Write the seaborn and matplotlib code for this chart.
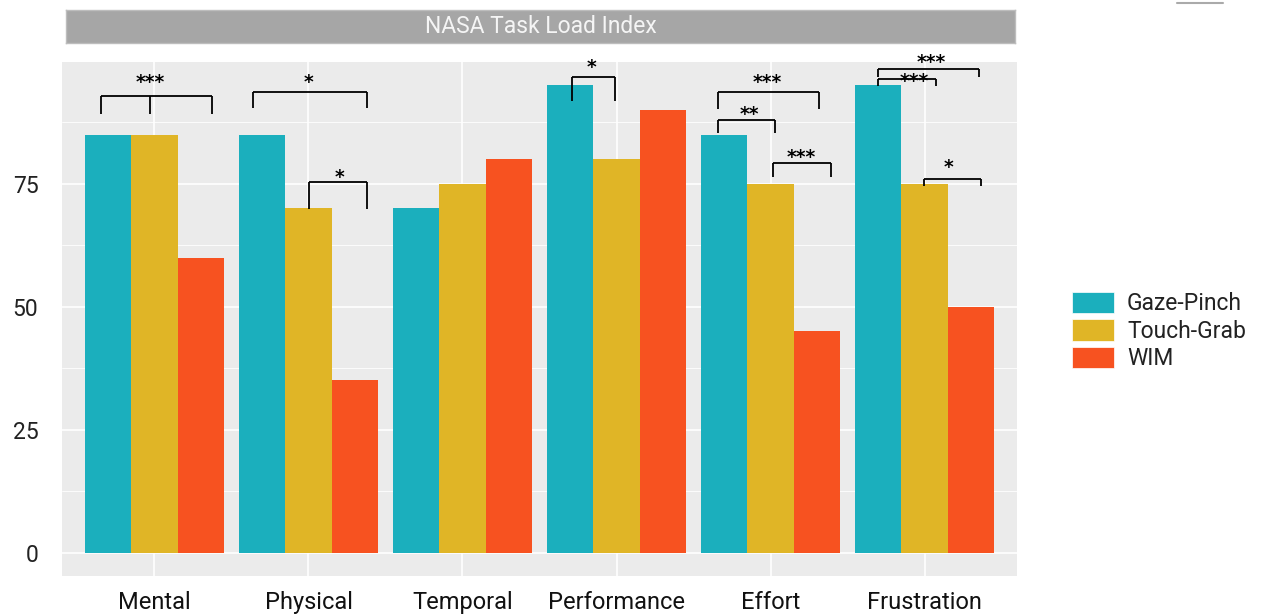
import pandas as pd
import matplotlib
matplotlib.use("Agg")
import matplotlib.pyplot as plt
from matplotlib.patches import Patch
from matplotlib.lines import Line2D
from matplotlib.transforms import offset_copy
import seaborn as sns

# NASA-TLX subscale scores per interaction technique
dimensions = ["Mental", "Physical", "Temporal", "Performance", "Effort", "Frustration"]
techniques = ["Gaze-Pinch", "Touch-Grab", "WIM"]
gaze_pinch = [85, 85, 70, 95, 85, 95]
touch_grab = [85, 70, 75, 80, 75, 75]
wim = [60, 35, 80, 90, 45, 50]
colors = ["#1BAFBD", "#E0B526", "#F75220"]
y_ticks = [0, 25, 50, 75]
title = "NASA Task Load Index"

# significance brackets: legs [(x, leg bottom)], bar height, stars, star x, star y
brackets = [
    ([(-0.35, 89.1), (-0.026, 89.1), (0.377, 89.1)], 92.9, "***", -0.03, 96.8),
    ([(0.643, 90.3), (1.383, 90.3)], 93.7, "*", 1.0, 96.8),
    ([(1.006, 69.9), (1.383, 69.9)], 75.4, "*", 1.20, 77.4),
    ([(2.708, 91.9), (2.987, 91.9)], 96.6, "*", 2.838, 99.7),
    ([(3.662, 90.1), (4.312, 90.1)], 93.7, "***", 3.981, 96.8),
    ([(3.662, 85.4), (4.032, 85.4)], 88.0, "**", 3.864, 90.3),
    ([(4.013, 76.4), (4.390, 76.4)], 79.3, "***", 4.201, 81.5),
    ([(4.695, 96.6), (5.351, 96.6)], 98.4, "***", 5.045, 100.7),
    ([(4.695, 94.8), (5.071, 94.8)], 96.2, "***", 4.935, 97.0),
    ([(4.994, 74.6), (5.364, 74.6)], 76.0, "*", 5.156, 79.4),
]

df = pd.DataFrame({
    "dimension": dimensions * 3,
    "technique": [t for t in techniques for _ in dimensions],
    "score": gaze_pinch + touch_grab + wim,
})

sns.set_theme(style="darkgrid")
plt.rcParams["font.family"] = ["Roboto", "DejaVu Sans"]

W, H = 1261, 616
fig = plt.figure(figsize=(W / 100, H / 100), dpi=100)
ax = fig.add_axes([62 / W, 1 - 576 / H, (1017 - 62) / W, (576 - 62) / H])
ax.set_facecolor("#EBEBEB")

sns.barplot(data=df, x="dimension", y="score", hue="technique",
            hue_order=techniques, order=dimensions, palette=colors,
            width=0.9, saturation=1, linewidth=0, legend=False, ax=ax, zorder=3)

ax.set_xlim(-0.6, 5.6)
ax.set_ylim(-4.75, 99.75)
ax.set_yticks(y_ticks)
ax.set_yticks([12.5, 37.5, 62.5, 87.5], minor=True)
ax.grid(which="major", color="white", linewidth=1.2, zorder=0)
ax.grid(which="minor", axis="y", color="white", linewidth=0.6, zorder=0)
ax.set_axisbelow(True)
for s in ax.spines.values():
    s.set_visible(False)
ax.set_xlabel("")
ax.set_ylabel("")
ax.tick_params(axis="y", which="major", length=3, width=1, color="#333333",
               pad=14, labelsize=16.5, labelcolor="#222222")
ax.tick_params(axis="y", which="minor", length=0)
ax.tick_params(axis="x", length=3, width=1, color="#333333", pad=8,
               labelsize=17, labelcolor="#111111")

# significance brackets with star labels
star_tf = offset_copy(ax.transData, fig=fig, y=-8, units="points")
for legs, top, stars, sx, sy in brackets:
    xs = [p[0] for p in legs]
    ax.plot([min(xs), max(xs)], [top, top], color="black", lw=1.3,
            clip_on=False, zorder=5, solid_capstyle="butt")
    for x, bottom in legs:
        ax.plot([x, x], [top, bottom], color="black", lw=1.3,
                clip_on=False, zorder=5, solid_capstyle="butt")
    ax.text(sx, sy, stars, ha="center", va="baseline", fontsize=13.5,
            fontweight="bold", family="DejaVu Sans", color="black",
            transform=star_tf, clip_on=False, zorder=6)

# facet-style title strip
strip = fig.add_axes([66 / W, 1 - 43 / H, (1015 - 66) / W, 33 / H])
strip.set_facecolor("#A6A6A6")
strip.set_xticks([])
strip.set_yticks([])
for s in strip.spines.values():
    s.set_color("#BDBDBD")
    s.set_linewidth(1)
strip.text(0.5, 0.5, title, ha="center", va="center", fontsize=16.5,
           color="#F5F5F5", transform=strip.transAxes)

# legend
handles = [Patch(facecolor=c, edgecolor="white", linewidth=0.5) for c in colors]
fig.legend(handles, techniques, loc="center left",
           bbox_to_anchor=(1056 / W, 1 - 331 / H), frameon=False,
           fontsize=16.5, handlelength=1.85, handleheight=1.05,
           labelspacing=0.17, handletextpad=0.55, borderpad=0.2,
           labelcolor="#222222")

fig.add_artist(Line2D([1177 / W, 1223 / W], [1 - 3 / H, 1 - 3 / H],
                      color="#AAAAAA", lw=1.5))

fig.savefig("out.png", dpi=100, facecolor="white")
